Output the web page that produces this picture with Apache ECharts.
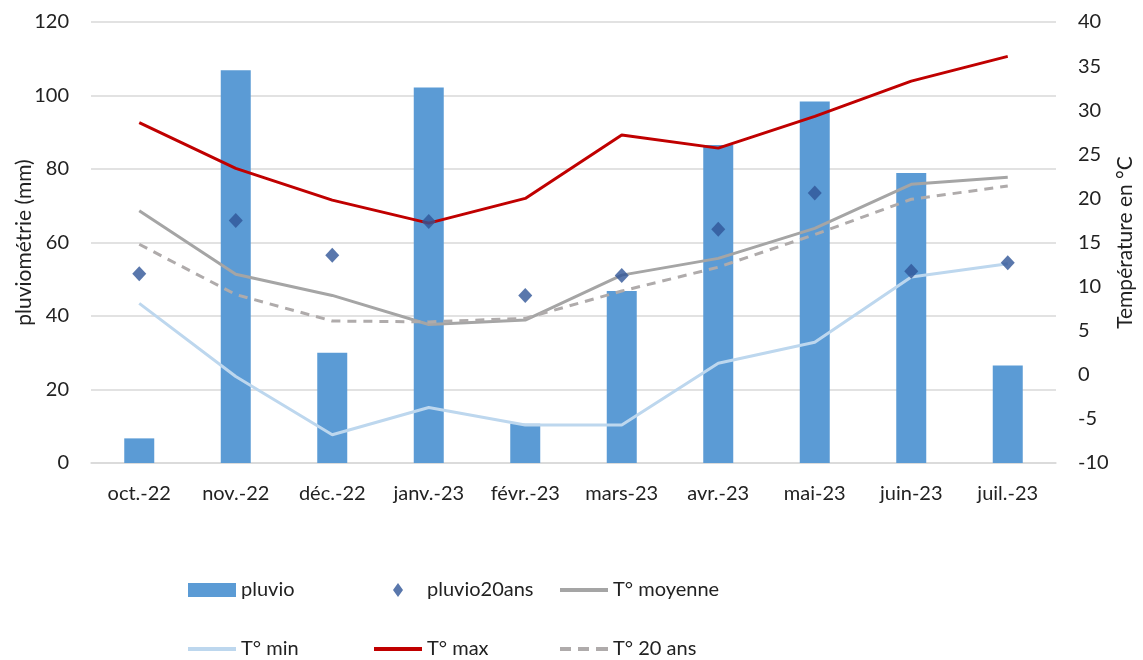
<!DOCTYPE html>
<html>
<head>
<meta charset="utf-8">
<script src="https://cdn.jsdelivr.net/npm/echarts@6/dist/echarts.min.js"></script>
<style>
  html, body { margin: 0; padding: 0; background: #fff; }
  #main { width: 1143px; height: 660px; }
</style>
</head>
<body>
<div id="main"></div>
<script>
var months = ['oct.-22', 'nov.-22', 'déc.-22', 'janv.-23', 'févr.-23', 'mars-23', 'avr.-23', 'mai-23', 'juin-23', 'juil.-23'];
var pluvio = [6.7, 106.9, 30.0, 102.2, 10.7, 46.8, 86.5, 98.4, 78.9, 26.5];
var pluvio20ans = [51.5, 66.0, 56.5, 65.7, 45.6, 51.0, 63.6, 73.5, 52.2, 54.5];
var tMoyenne = [18.6, 11.4, 9.0, 5.7, 6.2, 11.3, 13.2, 16.6, 21.6, 22.4];
var tMin = [8.1, -0.2, -6.8, -3.7, -5.7, -5.7, 1.3, 3.7, 11.1, 12.6];
var tMax = [28.6, 23.4, 19.8, 17.2, 20.0, 27.2, 25.7, 29.3, 33.3, 36.1];
var t20ans = [14.8, 9.1, 6.1, 6.0, 6.4, 9.5, 12.2, 15.9, 19.9, 21.4];

var font = 'Lato, "Open Sans", sans-serif';
var txt = '#222';

// icônes de légende (48 de large)
var iconLine = 'path://M0,0H48V4H0Z';
var iconDash = 'path://M0,0H11V4H0Z M18,0H29V4H18Z M36,0H48V4H36Z';
var iconDiamond = 'path://M0,7L0.01,7M48,7L47.99,7M24,0L29,7L24,14L19,7Z';

function leg(name, icon, left, top, h) {
    return {
        left: left, top: top, padding: 0,
        itemWidth: 48, itemHeight: h,
        data: [{ name: name, icon: icon }],
        textStyle: { fontFamily: font, fontSize: 20, color: txt }
    };
}

var myChart = echarts.init(document.getElementById('main'));
var option = {
    animation: false,
    grid: { left: 91, right: 87, top: 22, bottom: 197, outerBoundsMode: 'none' },
    legend: [
        leg('pluvio', 'rect', 188, 580, 14),
        leg('pluvio20ans', iconDiamond, 374, 580, 14),
        leg('T° moyenne', iconLine, 560, 580, 4),
        leg('T° min', iconLine, 188, 639, 4),
        leg('T° max', iconLine, 374, 639, 4),
        leg('T° 20 ans', iconDash, 560, 639, 4)
    ],
    xAxis: {
        type: 'category',
        data: months,
        axisTick: { show: false },
        axisLine: { lineStyle: { color: '#d9d9d9', width: 1.5 } },
        axisLabel: { fontFamily: font, fontSize: 20, color: txt, margin: 21 }
    },
    yAxis: [{
        type: 'value',
        min: 0, max: 120, interval: 20,
        name: 'pluviométrie (mm)',
        nameLocation: 'middle',
        nameGap: 56,
        nameMoveOverlap: false,
        nameTextStyle: { fontFamily: font, fontSize: 21, color: txt },
        axisLabel: { fontFamily: font, fontSize: 20, color: txt, margin: 22 },
        splitLine: { lineStyle: { color: '#d9d9d9', width: 1.5 } }
    }, {
        type: 'value',
        min: -10, max: 40, interval: 5,
        name: 'Température en °C',
        nameLocation: 'middle',
        nameGap: 59,
        nameRotate: 90,
        nameMoveOverlap: false,
        nameTextStyle: { fontFamily: font, fontSize: 21, color: txt },
        axisLabel: { fontFamily: font, fontSize: 20, color: txt, margin: 22 },
        splitLine: { show: false }
    }],
    series: [{
        name: 'pluvio', type: 'bar', data: pluvio, barWidth: 30,
        itemStyle: { color: '#5b9bd5' }
    }, {
        name: 'pluvio20ans', type: 'scatter', data: pluvio20ans,
        symbol: 'diamond', symbolSize: [14, 15],
        itemStyle: { color: '#2f5597' }, z: 5
    }, {
        name: 'T° moyenne', type: 'line', yAxisIndex: 1, data: tMoyenne,
        symbol: 'none', lineStyle: { color: '#a5a5a5', width: 3 }, itemStyle: { color: '#a5a5a5' }
    }, {
        name: 'T° min', type: 'line', yAxisIndex: 1, data: tMin,
        symbol: 'none', lineStyle: { color: '#bdd7ee', width: 3 }, itemStyle: { color: '#bdd7ee' }
    }, {
        name: 'T° max', type: 'line', yAxisIndex: 1, data: tMax,
        symbol: 'none', lineStyle: { color: '#c00000', width: 3 }, itemStyle: { color: '#c00000' }
    }, {
        name: 'T° 20 ans', type: 'line', yAxisIndex: 1, data: t20ans,
        symbol: 'none', lineStyle: { color: '#afabab', width: 3, type: [9, 7] }, itemStyle: { color: '#afabab' }
    }]
};
myChart.setOption(option);
</script>
</body>
</html>
